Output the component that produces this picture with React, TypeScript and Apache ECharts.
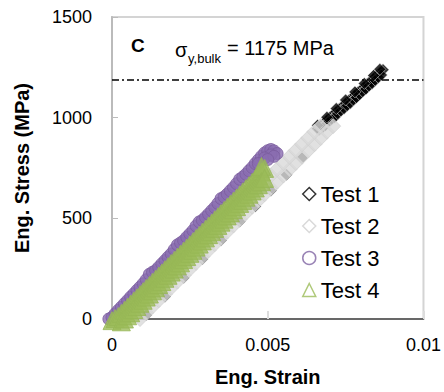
import React, { useEffect, useRef } from "react";
import * as echarts from "echarts";

const xTicks = [0, 0.005, 0.01];
const yTicks = [0, 500, 1000, 1500];
const seriesNames = ["Test 1", "Test 2", "Test 3", "Test 4"];
const yieldBulk = 1190;

// Test 1 (black diamonds): [strain, stress]
const test1: number[][] = [
  [0.0011, 20], [0.0017, 112], [0.0023, 205], [0.0029, 298], [0.0035, 391],
  [0.0041, 484], [0.0046, 560], [0.0051, 638], [0.0056, 716], [0.0061, 800],
  [0.0066, 945], [0.0067, 960], [0.0068, 975], [0.0069, 988], [0.0070, 1002],
  [0.0071, 1016], [0.0072, 1030], [0.0073, 1044], [0.0074, 1058], [0.0075, 1071],
  [0.0076, 1085], [0.0077, 1099], [0.0078, 1113], [0.0079, 1127], [0.0080, 1140],
  [0.0081, 1154], [0.0082, 1168], [0.0083, 1182], [0.0084, 1196], [0.0085, 1210],
  [0.0086, 1224], [0.0087, 1238],
  [0.00665, 940], [0.00675, 950], [0.00685, 962], [0.00695, 980], [0.00705, 992],
  [0.00715, 1002], [0.00725, 1020], [0.00735, 1034], [0.00745, 1045], [0.00755, 1060],
  [0.00765, 1072], [0.00775, 1088], [0.00785, 1100], [0.00795, 1115], [0.00805, 1130],
  [0.00815, 1142], [0.00825, 1158], [0.00835, 1170], [0.00845, 1186], [0.00855, 1200],
  [0.00865, 1212],
  [0.00660, 962], [0.00690, 1002], [0.00720, 1045], [0.00750, 1088], [0.00780, 1128],
  [0.00810, 1170], [0.00840, 1210], [0.00860, 1240]
];

// Test 2 (light grey diamonds)
const test2: number[][] = [
  [0.0009, 0], [0.0011, 31], [0.0013, 62], [0.0015, 93], [0.0017, 124],
  [0.0019, 155], [0.0021, 186], [0.0023, 217], [0.0025, 248], [0.0027, 279],
  [0.0029, 310], [0.0031, 341], [0.0033, 372], [0.0035, 403], [0.0037, 434],
  [0.0039, 465], [0.0041, 496], [0.0043, 527], [0.0045, 558], [0.0047, 589],
  [0.0049, 620], [0.0051, 651], [0.0053, 682], [0.0055, 713], [0.0057, 744],
  [0.0059, 775], [0.0061, 806], [0.0063, 837], [0.0065, 868], [0.0067, 899],
  [0.0069, 930], [0.0071, 958],
  [0.0045, 620], [0.0047, 651], [0.0049, 682], [0.0051, 713], [0.0053, 744],
  [0.0055, 775], [0.0057, 806], [0.0059, 837], [0.0061, 868], [0.0063, 899],
  [0.0065, 930], [0.0067, 958]
];

// Test 3 (purple circles)
const test3: number[][] = [
  [-0.0001, 0], [0.0000, 8], [0.0001, 26], [0.0002, 43], [0.0003, 59],
  [0.0004, 76], [0.0005, 92], [0.0006, 109], [0.0007, 125], [0.0008, 142],
  [0.0009, 158], [0.0010, 175], [0.0011, 195], [0.0012, 222], [0.0013, 232],
  [0.0014, 241], [0.0015, 257], [0.0016, 274], [0.0017, 290], [0.0018, 307],
  [0.0019, 323], [0.0020, 345], [0.0021, 368], [0.0022, 378], [0.0023, 389],
  [0.0024, 406], [0.0025, 422], [0.0026, 439], [0.0027, 462], [0.0028, 482],
  [0.0029, 490], [0.0030, 505], [0.0031, 521], [0.0032, 538], [0.0033, 554],
  [0.0034, 574], [0.0035, 598], [0.0036, 606], [0.0037, 620], [0.0038, 637],
  [0.0039, 653], [0.0040, 672], [0.0041, 694], [0.0042, 705], [0.0043, 719],
  [0.0044, 736], [0.0045, 752], [0.0046, 772], [0.0047, 790], [0.0048, 808],
  [0.0049, 825], [0.0050, 836], [0.0051, 842], [0.0052, 835], [0.0053, 822],
  [0.0051, 815], [0.0049, 800], [0.0052, 808], [0.0047, 772], [0.0050, 792]
];

// Test 4 (green triangles)
const test4: number[][] = [
  [0.0000, -8], [0.0001, 2], [0.0002, 12], [0.0003, 28], [0.0004, 43], [0.0005, 59],
  [0.0006, 74], [0.0007, 90], [0.0008, 105], [0.0009, 121], [0.0010, 136],
  [0.0011, 152], [0.0012, 167], [0.0013, 183], [0.0014, 198], [0.0015, 214],
  [0.0016, 229], [0.0017, 245], [0.0018, 260], [0.0019, 276], [0.0020, 291],
  [0.0021, 307], [0.0022, 322], [0.0023, 338], [0.0024, 353], [0.0025, 369],
  [0.0026, 384], [0.0027, 400], [0.0028, 415], [0.0029, 431], [0.0030, 446],
  [0.0031, 462], [0.0032, 477], [0.0033, 493], [0.0034, 508], [0.0035, 524],
  [0.0036, 539], [0.0037, 555], [0.0038, 570], [0.0039, 586], [0.0040, 601],
  [0.0041, 617], [0.0042, 632], [0.0043, 648], [0.0044, 663], [0.0045, 679],
  [0.0046, 694], [0.0047, 712], [0.0048, 730], [0.0049, 748], [0.0048, 758],
  [0.0003, -14], [0.0004, 0], [0.0005, 16], [0.0006, 31], [0.0007, 47],
  [0.0008, 62], [0.0009, 78], [0.0010, 93], [0.0011, 109], [0.0012, 124],
  [0.0013, 140], [0.0014, 155], [0.0015, 171], [0.0016, 186], [0.0017, 202],
  [0.0018, 217], [0.0019, 233], [0.0020, 248], [0.0021, 264], [0.0022, 279],
  [0.0023, 295], [0.0024, 310], [0.0025, 326], [0.0026, 341], [0.0027, 357],
  [0.0028, 372], [0.0029, 388], [0.0030, 403], [0.0031, 419], [0.0032, 434],
  [0.0033, 450], [0.0034, 465], [0.0035, 481], [0.0036, 496], [0.0037, 512],
  [0.0038, 527], [0.0039, 543], [0.0040, 558], [0.0041, 574], [0.0042, 589],
  [0.0043, 605], [0.0044, 620], [0.0045, 636], [0.0046, 651], [0.0047, 667],
  [0.0048, 682], [0.0049, 698]
];

const FONT = "'Liberation Sans', Arial, Helvetica, sans-serif";

export default function App() {
  const ref = useRef<HTMLDivElement>(null);

  useEffect(() => {
    if (!ref.current) return;
    const chart = echarts.init(ref.current, undefined, { renderer: "svg" });
    chart.setOption({
      animation: false,
      backgroundColor: "#fff",
      textStyle: { fontFamily: FONT },
      grid: {
        left: 112, right: 17, top: 17, bottom: 70,
        show: true, borderColor: "#d4d4d4", borderWidth: 2, backgroundColor: "transparent",
      },
      legend: {
        orient: "vertical",
        left: 297,
        top: 178,
        itemWidth: 13,
        itemHeight: 13,
        itemGap: 10,
        textStyle: { fontSize: 22, color: "#000", fontFamily: FONT },
        data: [
          { name: seriesNames[0], icon: "diamond", itemStyle: { color: "#fff", borderColor: "#000", borderWidth: 1.5 } },
          { name: seriesNames[1], icon: "diamond", itemStyle: { color: "#fff", borderColor: "#d0d0d0", borderWidth: 1.5 } },
          { name: seriesNames[2], icon: "circle", itemStyle: { color: "#fff", borderColor: "#8064a2", borderWidth: 1.5 } },
          { name: seriesNames[3], icon: "triangle", itemStyle: { color: "#fff", borderColor: "#9bbb59", borderWidth: 1.5 } },
        ],
      },
      xAxis: {
        type: "value",
        min: xTicks[0],
        max: xTicks[xTicks.length - 1],
        interval: xTicks[1] - xTicks[0],
        name: "Eng. Strain",
        nameLocation: "middle",
        nameGap: 48,
        nameTextStyle: { fontSize: 20, fontWeight: "bold", color: "#000", fontFamily: FONT },
        axisLine: { show: true, lineStyle: { color: "#444", width: 1.5 } },
        axisTick: { show: true, inside: true, length: 8, lineStyle: { color: "#ddd", width: 2 } },
        axisLabel: { fontSize: 18, color: "#000", margin: 17, fontFamily: FONT,
          formatter: (v: number) => (v === 0 ? "0" : String(v)) },
        splitLine: { show: false },
      },
      yAxis: {
        type: "value",
        min: yTicks[0],
        max: yTicks[yTicks.length - 1],
        interval: yTicks[1] - yTicks[0],
        name: "Eng. Stress (MPa)",
        nameLocation: "middle",
        nameGap: 80,
        nameTextStyle: { fontSize: 20, fontWeight: "bold", color: "#000", fontFamily: FONT },
        axisLine: { show: true, lineStyle: { color: "#bbb", width: 2 } },
        axisTick: { show: true, inside: true, length: 6, lineStyle: { color: "#bbb", width: 1 } },
        axisLabel: { fontSize: 18, color: "#000", margin: 20, fontFamily: FONT,
          formatter: (v: number) => String(v) },
        splitLine: { show: false },
      },
      graphic: [
        { type: "text", left: 131, top: 36, style: { text: "C", fontSize: 19, fontWeight: "bold", fill: "#000", fontFamily: FONT } },
        { type: "text", x: 175, y: 40, style: { text: "σ", fontSize: 20, fill: "#000", fontFamily: FONT } },
        { type: "text", x: 188, y: 52, style: { text: "y,bulk", fontSize: 13, fill: "#000", fontFamily: FONT } },
        { type: "text", x: 227, y: 38, style: { text: "= 1175 MPa", fontSize: 20, fill: "#000", fontFamily: FONT } },
      ],
      series: [
        {
          name: seriesNames[0], type: "scatter", z: 2, clip: false,
          symbol: "diamond", symbolSize: 12,
          itemStyle: { color: "#000", borderColor: "#fff", borderWidth: 0.6 },
          data: test1,
          markLine: {
            silent: true, symbol: "none", label: { show: false },
            lineStyle: { color: "#000", width: 1.5, type: [7, 3, 2, 3] },
            data: [{ yAxis: yieldBulk }],
          },
        },
        {
          name: seriesNames[1], type: "scatter", z: 3, clip: false,
          symbol: "diamond", symbolSize: 15,
          itemStyle: { color: "#dadada", borderColor: "#d2d2d2", borderWidth: 1 },
          data: test2,
        },
        {
          name: seriesNames[2], type: "scatter", z: 4, clip: false,
          symbol: "circle", symbolSize: 12,
          itemStyle: { color: "#8a6db0", borderColor: "#7a5c9e", borderWidth: 1 },
          data: test3,
        },
        {
          name: seriesNames[3], type: "scatter", z: 5, clip: false,
          symbol: "triangle", symbolSize: 18,
          itemStyle: { color: "#9bbb59", borderColor: "#96b655", borderWidth: 1 },
          data: test4,
        },
      ],
    });
    return () => chart.dispose();
  }, []);

  return (
    <div
      ref={ref}
      style={{ position: "fixed", left: 0, top: 0, width: 444, height: 392, background: "#fff" }}
    />
  );
}
